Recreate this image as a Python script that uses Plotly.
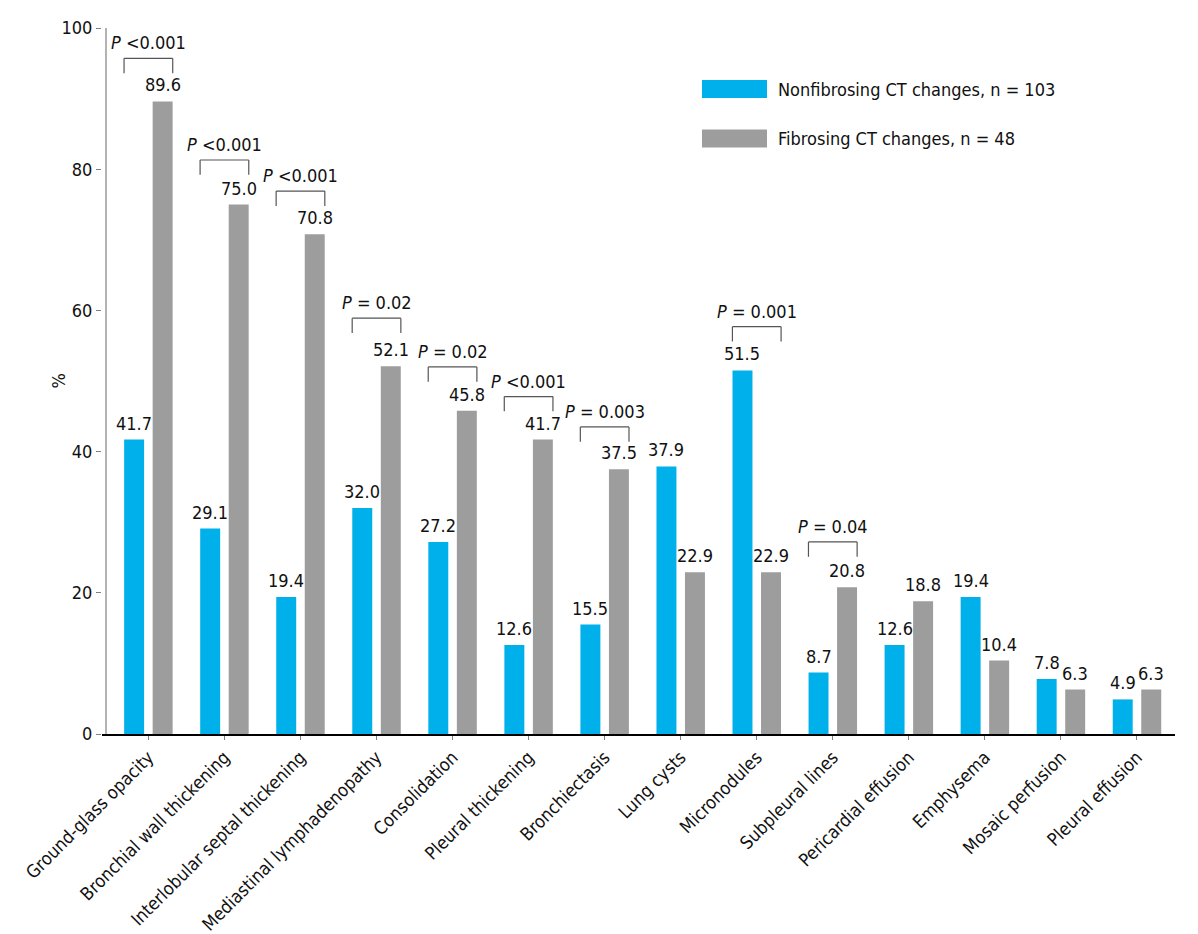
import plotly.graph_objects as go

categories = ["Ground-glass opacity", "Bronchial wall thickening", "Interlobular septal thickening",
              "Mediastinal lymphadenopathy", "Consolidation", "Pleural thickening", "Bronchiectasis",
              "Lung cysts", "Micronodules", "Subpleural lines", "Pericardial effusion", "Emphysema",
              "Mosaic perfusion", "Pleural effusion"]
nonfibrosing = [41.7, 29.1, 19.4, 32.0, 27.2, 12.6, 15.5, 37.9, 51.5, 8.7, 12.6, 19.4, 7.8, 4.9]
fibrosing = [89.6, 75.0, 70.8, 52.1, 45.8, 41.7, 37.5, 22.9, 22.9, 20.8, 18.8, 10.4, 6.3, 6.3]
p_labels = ["<0.001", "<0.001", "<0.001", "= 0.02", "= 0.02", "<0.001", "= 0.003", None, "= 0.001",
            "= 0.04", None, None, None, None]
bracket_levels = [95.7, 81.3, 76.9, 58.9, 52.0, 47.8, 43.5, None, 57.7, 27.2, None, None, None, None]
y_ticks = [0, 20, 40, 60, 80, 100]
series_names = ["Nonfibrosing CT changes, n = 103", "Fibrosing CT changes, n = 48"]

BLUE = "#00B0EA"
GRAY = "#9D9D9D"
FONT = "Liberation Sans Narrow, DejaVu Sans Condensed, Arial Narrow, sans-serif"
BARGAP = 0.25
slot = (1 - BARGAP) / 2

x_idx = list(range(len(categories)))

fig = go.Figure()
for vals, col, name in [(nonfibrosing, BLUE, series_names[0]), (fibrosing, GRAY, series_names[1])]:
    fig.add_trace(go.Bar(
        x=x_idx, y=vals, name=name, marker=dict(color=col, line=dict(width=0)),
        showlegend=False,
    ))

# value labels above bars
for sign, vals in [(-1, nonfibrosing), (1, fibrosing)]:
    for i, v in enumerate(vals):
        fig.add_annotation(x=i + sign * slot / 2, y=v, xref="x", yref="y", text=f"{v:.1f}",
                           showarrow=False, yanchor="bottom", yshift=4,
                           font=dict(family=FONT, size=18, color="#111"))

# significance brackets
half = 0.32
leg = 2.1
for i, (lab, lvl) in enumerate(zip(p_labels, bracket_levels)):
    if lab is None:
        continue
    line = dict(color="#555555", width=1.2)
    fig.add_shape(type="line", xref="x", yref="y", x0=i - half, x1=i - half, y0=lvl - leg, y1=lvl, line=line)
    fig.add_shape(type="line", xref="x", yref="y", x0=i - half, x1=i + half, y0=lvl, y1=lvl, line=line)
    fig.add_shape(type="line", xref="x", yref="y", x0=i + half, x1=i + half, y0=lvl - leg, y1=lvl, line=line)
    fig.add_annotation(x=i, y=lvl, xref="x", yref="y", text="<i>P</i> " + lab.replace("<", "&lt;"),
                       showarrow=False, yanchor="bottom", yshift=3,
                       font=dict(family=FONT, size=18, color="#111"))

L, R, T, B = 102, 23, 28, 200
W, H = 1198, 934
pw, ph = W - L - R, H - T - B
def px(x):
    return (x - L) / pw
def py(y):
    return (H - B - y) / ph

# y-axis line (slightly right of x-axis start)
fig.add_shape(type="line", xref="paper", yref="y", x0=px(106), x1=px(106), y0=0, y1=100,
              line=dict(color="#808080", width=1.2))

# legend
for k, (col, name) in enumerate([(BLUE, series_names[0]), (GRAY, series_names[1])]):
    y0 = 80 + k * 49.5
    fig.add_shape(type="rect", xref="paper", yref="paper", x0=px(702), x1=px(767),
                  y0=py(y0 + 18), y1=py(y0), fillcolor=col, line=dict(width=0))
    fig.add_annotation(xref="paper", yref="paper", x=px(776), y=py(y0 + 9), text=name,
                       showarrow=False, xanchor="left", yanchor="middle",
                       font=dict(family=FONT, size=18, color="#111"))

# y title
fig.add_annotation(xref="paper", yref="paper", x=px(45), y=py(381), text="%", textangle=-90,
                   showarrow=False, font=dict(family=FONT, size=18, color="#111"))

fig.update_layout(
    width=W, height=H, margin=dict(l=L, r=R, t=T, b=B, autoexpand=False),
    paper_bgcolor="white", plot_bgcolor="white",
    barmode="group", bargap=BARGAP, bargroupgap=0.3,
    font=dict(family=FONT, size=18, color="#111"),
    xaxis=dict(range=[-0.61, 13.5], tickvals=x_idx, ticktext=categories, tickangle=-45,
               showline=True, linecolor="black", linewidth=1.5, ticks="outside", ticklen=4,
               tickcolor="#808080", showgrid=False, zeroline=False, automargin=False,
               tickfont=dict(family=FONT, size=18, color="#111")),
    yaxis=dict(range=[0, 100], tickvals=y_ticks, showline=False, ticks="outside", ticklen=5,
               tickcolor="#808080", showgrid=False, zeroline=False, automargin=False,
               tickfont=dict(family=FONT, size=18, color="#111")),
)

fig.write_html("out.html")
